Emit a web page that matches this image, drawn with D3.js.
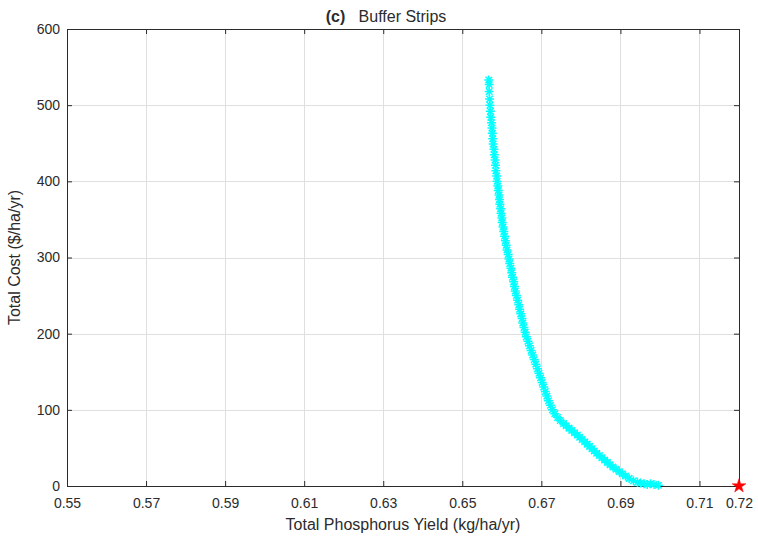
<!DOCTYPE html>
<html>
<head>
<meta charset="utf-8">
<script src="https://cdn.jsdelivr.net/npm/d3@7"></script>
<style>
  html, body { margin: 0; padding: 0; background: #fff; }
  svg { display: block; font-family: "Liberation Sans", Arial, Helvetica, sans-serif; }
</style>
</head>
<body>
<div id="chart"></div>
<script>
// Buffer strips trade-off curve: phosphorus yield vs cost
const costs = [
  533, 527, 518, 508, 500, 492, 484, 477, 470, 463, 456, 449, 442, 435, 428, 421,
  414, 407, 400, 394, 388, 382, 376, 370, 364, 358, 352, 346, 340, 334, 328, 322,
  316, 310, 304, 298, 292, 286, 280, 274, 268, 262, 256, 250, 244, 238, 232, 226,
  220, 214, 208, 202, 196, 190, 184, 178, 172, 166, 160, 154, 148, 142, 136, 130,
  124, 118, 112, 106, 100, 95, 90, 86, 82, 79, 76, 73, 70, 67, 64, 61,
  58, 55, 52, 49, 46, 43, 40, 37, 34, 31, 28, 25, 22, 19, 16, 13,
  10, 7, 5, 4, 3, 2, 3, 2, 1
];
const yields = [
  0.6567, 0.6568, 0.6568, 0.6569, 0.6570, 0.6571, 0.6572, 0.6574, 0.6575, 0.6576, 0.6577, 0.6578, 0.6580, 0.6581, 0.6583, 0.6584,
  0.6585, 0.6587, 0.6588, 0.6590, 0.6591, 0.6593, 0.6594, 0.6595, 0.6597, 0.6598, 0.6600, 0.6601, 0.6603, 0.6605, 0.6607, 0.6609,
  0.6611, 0.6613, 0.6616, 0.6618, 0.6620, 0.6623, 0.6625, 0.6627, 0.6630, 0.6632, 0.6634, 0.6637, 0.6640, 0.6643, 0.6645, 0.6648,
  0.6651, 0.6653, 0.6656, 0.6659, 0.6662, 0.6666, 0.6670, 0.6674, 0.6678, 0.6682, 0.6686, 0.6690, 0.6694, 0.6698, 0.6702, 0.6706,
  0.6710, 0.6714, 0.6718, 0.6723, 0.6728, 0.6734, 0.6741, 0.6748, 0.6756, 0.6763, 0.6770, 0.6777, 0.6784, 0.6791, 0.6797, 0.6803,
  0.6810, 0.6816, 0.6822, 0.6828, 0.6834, 0.6840, 0.6847, 0.6853, 0.6860, 0.6867, 0.6874, 0.6881, 0.6889, 0.6897, 0.6905, 0.6913,
  0.6922, 0.6933, 0.6943, 0.6951, 0.6960, 0.6968, 0.6976, 0.6985, 0.6996
];
// baseline (no buffer strips) point
const baseline = [{ yield: 0.72, cost: 0 }];

const xTicks = [0.55, 0.57, 0.59, 0.61, 0.63, 0.65, 0.67, 0.69, 0.71, 0.72];
const yTicks = [0, 100, 200, 300, 400, 500, 600];

const W = 758, H = 540;
const M = { top: 29, right: 19, bottom: 54, left: 67 };
const iW = W - M.left - M.right;
const iH = H - M.top - M.bottom;
const INK = '#2b2b2b';

const svg = d3.select('#chart').append('svg')
  .attr('width', W).attr('height', H);

const g = svg.append('g').attr('transform', `translate(${M.left},${M.top})`);

const x = d3.scaleLinear().domain([0.55, 0.72]).range([0, iW]);
const y = d3.scaleLinear().domain([0, 600]).range([iH, 0]);

// Grid
g.append('g')
  .attr('stroke', '#dfdfdf').attr('stroke-width', 1)
  .selectAll('line')
  .data(xTicks.slice(1, -1))
  .join('line')
  .attr('x1', d => Math.round(x(d)) + 0.5).attr('x2', d => Math.round(x(d)) + 0.5)
  .attr('y1', 0).attr('y2', iH);

g.append('g')
  .attr('stroke', '#dfdfdf').attr('stroke-width', 1)
  .selectAll('line')
  .data(yTicks.slice(1, -1))
  .join('line')
  .attr('x1', 0).attr('x2', iW)
  .attr('y1', d => Math.round(y(d)) + 0.5).attr('y2', d => Math.round(y(d)) + 0.5);

// Axes (ticks pointing inward, box on)
const styleAxis = ax => {
  ax.select('.domain').attr('stroke', INK);
  ax.selectAll('.tick line').attr('stroke', INK);
  ax.selectAll('text').attr('font-size', 14).attr('fill', INK);
};

g.append('g')
  .attr('transform', `translate(0,${iH})`)
  .call(d3.axisBottom(x).tickValues(xTicks).tickFormat(d3.format('.2f'))
    .tickSizeInner(-5).tickSizeOuter(0).tickPadding(12))
  .call(styleAxis);

g.append('g')
  .call(d3.axisLeft(y).tickValues(yTicks).tickFormat(d3.format('d'))
    .tickSizeInner(-5).tickSizeOuter(0).tickPadding(7))
  .call(styleAxis);

g.append('g')
  .call(d3.axisTop(x).tickValues(xTicks).tickFormat('')
    .tickSizeInner(-5).tickSizeOuter(0))
  .call(styleAxis);

g.append('g')
  .attr('transform', `translate(${iW},0)`)
  .call(d3.axisRight(y).tickValues(yTicks).tickFormat('')
    .tickSizeInner(-5).tickSizeOuter(0))
  .call(styleAxis);

// Asterisk markers ('*' = plus + cross)
const r = 4.5, rd = r * 0.72;
const asterisk = `M${-r},0H${r}M0,${-r}V${r}M${-rd},${-rd}L${rd},${rd}M${-rd},${rd}L${rd},${-rd}`;

const pts = costs.map((c, i) => ({ cost: c, yield: yields[i] }));

g.append('g')
  .selectAll('path')
  .data(pts)
  .join('path')
  .attr('transform', d => `translate(${x(d.yield)},${y(d.cost)})`)
  .attr('d', asterisk)
  .attr('fill', 'none')
  .attr('stroke', '#00ffff')
  .attr('stroke-width', 1.5);

// Baseline star
g.selectAll('.star')
  .data(baseline)
  .join('path')
  .attr('class', 'star')
  .attr('transform', d => `translate(${x(d.yield)},${y(d.cost)})`)
  .attr('d', d3.symbol(d3.symbolStar, 60))
  .attr('fill', '#ff0000')
  .attr('stroke', '#ff0000')
  .attr('stroke-width', 0.5);

// Axis labels
g.append('text')
  .attr('x', iW / 2).attr('y', iH + 44)
  .attr('text-anchor', 'middle')
  .attr('font-size', 16).attr('fill', INK)
  .text('Total Phosphorus Yield (kg/ha/yr)');

g.append('text')
  .attr('transform', 'rotate(-90)')
  .attr('x', -iH / 2).attr('y', -47)
  .attr('text-anchor', 'middle')
  .attr('font-size', 16).attr('fill', INK)
  .text('Total Cost ($/ha/yr)');

// Title
const title = svg.append('text')
  .attr('x', 386).attr('y', 22)
  .attr('text-anchor', 'middle')
  .attr('font-size', 16).attr('fill', INK);
title.append('tspan').attr('font-weight', 'bold').text('(c)');
title.append('tspan').attr('xml:space', 'preserve').text('\u00a0\u00a0 Buffer Strips');
</script>
</body>
</html>
